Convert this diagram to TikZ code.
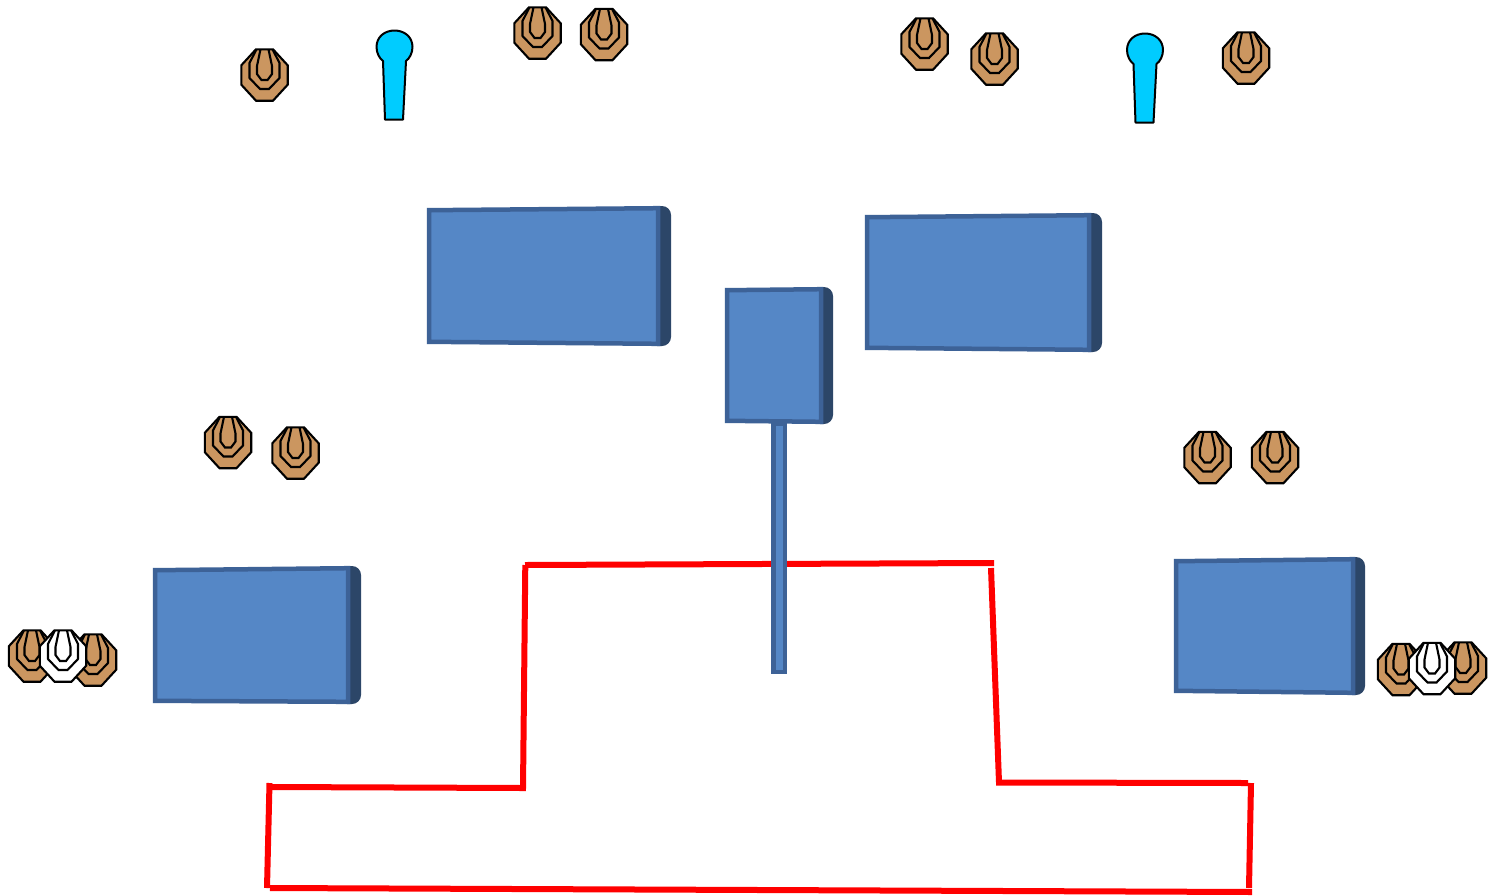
\documentclass[tikz,border=0pt]{standalone}
\definecolor{tan1}{HTML}{CB9660}
\definecolor{pinblue}{HTML}{00CCFF}
\definecolor{faceblue}{HTML}{5587C6}
\definecolor{edgeblue}{HTML}{3D6297}
\definecolor{sideblue}{HTML}{2C4668}
\definecolor{redline}{HTML}{FF0000}
\tikzset{
  targetline/.style={draw=black,line width=2.1pt,line join=miter},
  pinshape/.style={draw=black,line width=2pt,fill=pinblue,line join=round},
  sideface/.style={fill=sideblue,draw=none},
  bandface/.style={fill=edgeblue,draw=none},
  frontface/.style={fill=faceblue,draw=edgeblue,line width=4.5pt,line join=miter},
  barrier/.style={draw=redline,line width=6pt,line cap=butt,line join=miter},
  pics/targ/.style={code={
    \path[targetline,fill=#1] (-8.5,-25.7) -- (8.5,-25.7) -- (23.2,-9.7) -- (23.2,9.7) -- (8.5,25.7) -- (-8.5,25.7) -- (-23.2,9.7) -- (-23.2,-9.7) -- cycle;
    \path[targetline] (-8,-25.7) -- (-15,-12) -- (-15,3) -- (-4.5,14) -- (4.5,14) -- (15,3) -- (15,-12) -- (8,-25.7);
    \path[targetline] (-4,-25.7) -- (-7.5,-9) -- (-7.5,-1) -- (-3,5) -- (3,5) -- (7.5,-1) -- (7.5,-9) -- (4,-25.7);
  }},
  pics/pinmark/.style={code={
    \path[pinshape] (-9.5,72.5) -- (-11.5,14) .. controls (-15,11.5) and (-18,6) .. (-18,0)
      .. controls (-18,-10) and (-10,-16.5) .. (0,-16.5) .. controls (10,-16.5) and (18,-10) .. (18,0)
      .. controls (18,6) and (15,11.5) .. (11.5,14) -- (8.5,72.5) -- cycle;
  }}
}
% left x, top-left y, bottom-left y, front right x, right x, top-right y, bottom-right y
\newcommand{\bluebox}[7]{
  \fill[sideface] (#4-2,#6) -- (#5-9,#6) .. controls (#5-4,#6) and (#5,#6+4) .. (#5,#6+9)
    -- (#5,#7-9) .. controls (#5,#7-4) and (#5-4,#7) .. (#5-9,#7) -- (#4-2,#7) -- cycle;
  \fill[bandface] (#4-3,#6) rectangle (#4+1,#7);
  \path[frontface] (#1+2.2,#2+2.2) -- (#4-1,#6+2.2) -- (#4-1,#7-2.2) -- (#1+2.2,#3-2.2) -- cycle;
}
\begin{document}
\begin{tikzpicture}[x=1pt,y=-1pt]
\useasboundingbox (0,0) rectangle (1491,895);
\fill[white] (0,0) rectangle (1491,895);
% red outline
\draw[barrier] (525,565) -- (994,563);
\draw[barrier] (525.3,565) -- (523,788) -- (272,787);
\draw[barrier] (269.5,783) -- (267,888);
\draw[barrier] (270,888) -- (1252,892);
\draw[barrier] (1251,783) -- (1249,888);
\draw[barrier] (1248,783) -- (999,782.5) -- (991,568);
% blue boxes
\bluebox{427}{208}{344}{659}{671}{206}{346}
\bluebox{865}{215}{350}{1090}{1102}{213}{352}
\bluebox{725}{288}{423}{822}{833}{287}{424}
\bluebox{153}{568}{703}{349}{361}{566}{704}
\bluebox{1174}{559}{693}{1354}{1365}{557}{695}
% stem
\path[fill=faceblue,draw=edgeblue,line width=4.5pt] (773.25,424) rectangle (784.75,671.75);
% pins
\pic at (394.5,47) {pinmark};
\pic at (1145,50) {pinmark};
% targets
\pic at (264.5,75) {targ=tan1};
\pic at (537.5,33) {targ=tan1};
\pic at (604,34.5) {targ=tan1};
\pic at (924.5,44) {targ=tan1};
\pic at (994.5,59) {targ=tan1};
\pic at (1246,58) {targ=tan1};
\pic at (228,442.5) {targ=tan1};
\pic at (295.5,453) {targ=tan1};
\pic at (1207.5,457.5) {targ=tan1};
\pic at (1275,457.5) {targ=tan1};
\pic at (32,656) {targ=tan1};
\pic at (93,660) {targ=tan1};
\pic at (63,656) {targ=white};
\pic at (1401,669.5) {targ=tan1};
\pic at (1463,668) {targ=tan1};
\pic at (1432,668.5) {targ=white};
\end{tikzpicture}
\end{document}
